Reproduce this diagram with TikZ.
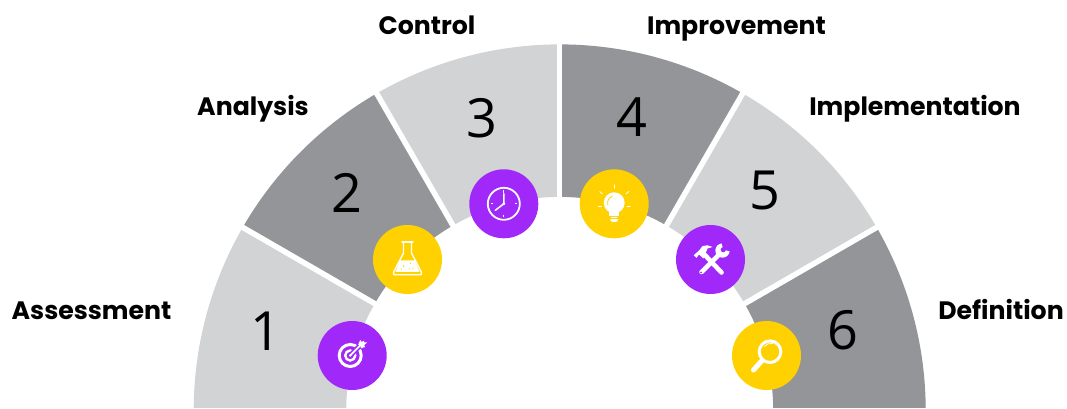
\documentclass[tikz,border=0pt]{standalone}
\usepackage{fontspec}
\newfontfamily\labfont{Poppins}
\newfontfamily\digfont{Open Sans}
\definecolor{segl}{HTML}{D1D3D4}
\definecolor{segd}{HTML}{939598}
\definecolor{purp}{HTML}{A028F9}
\definecolor{yell}{HTML}{FFD100}
\tikzset{
  lab/.style={font=\labfont\fontsize{25.2}{28}\selectfont\bfseries,text=black,inner sep=0pt,anchor=base},
  dig/.style={font=\digfont\fontsize{54}{60}\selectfont,text=black,inner sep=0pt},
  badge/.style={circle,minimum size=69pt,inner sep=0pt},
  ico/.style={draw=white,line width=1.6pt,line cap=round,line join=round},
  icof/.style={fill=white}
}
\newcommand{\seg}[3]{\fill[#3] (#1:366) arc[start angle=#1,end angle=#2,radius=366pt] -- (#2:213.5) arc[start angle=#2,end angle=#1,radius=213.5pt] -- cycle;}
\begin{document}
\begin{tikzpicture}[x=1pt,y=1pt]
\useasboundingbox (0,0) rectangle (1067,409);
\fill[white] (0,0) rectangle (1067,409);
\begin{scope}
\clip (0,1.3) rectangle (1067,409);
\begin{scope}[shift={(559.7,-1.4)}]
\seg{150}{180}{segl}
\seg{120}{150}{segd}
\seg{90}{120}{segl}
\seg{60}{90}{segd}
\seg{30}{60}{segl}
\seg{0}{30}{segd}
\foreach \a in {30,60,...,150} \draw[white,line width=5.5pt] (\a:200) -- (\a:380);
\end{scope}
\end{scope}
% digits
\node[dig] (d1) at (266,78) {1};
\node[dig] (d2) at (347,216) {2};
\node[dig] (d3) at (482,291) {3};
\node[dig] (d4) at (632,292) {4};
\node[dig] (d5) at (765,219) {5};
\node[dig] (d6) at (843,79) {6};
% labels
\node[lab] (l1) at (91.5,89) {Assessment};
\node[lab] (l2) at (253,293.3) {Analysis};
\node[lab] (l3) at (427,374.7) {Control};
\node[lab] (l4) at (736.5,374.7) {Improvement};
\node[lab] (l5) at (915,293.3) {Implementation};
\node[lab] (l6) at (1001,89) {Definition};
% badges
\node[badge,fill=purp] (b1) at (352.2,53.5) {};
\node[badge,fill=yell] (b2) at (407.5,149.5) {};
\node[badge,fill=purp] (b3) at (503.8,205.2) {};
\node[badge,fill=yell] (b4) at (614.2,205.2) {};
\node[badge,fill=purp] (b5) at (710.5,149.5) {};
\node[badge,fill=yell] (b6) at (766.5,53.5) {};
% target
\begin{scope}[shift={(b1.center)}]
\draw[white,line width=3pt] (-2,0) circle[radius=11];
\draw[white,line width=2.4pt] (-2,0) circle[radius=5];
\fill[white] (-2,0) circle[radius=1.3];
\draw[purp,line width=5pt] (-1,1) -- (9,11);
\draw[white,line width=1.8pt] (-2,0) -- (9,11);
\fill[white] (6,11) -- (8,10) -- (9,7) -- (11,8) -- (13,8) -- (12,10.5) -- (15,13) -- (12,13) -- (12,15) -- (9.5,13.5) -- (8,15.5) -- cycle;
\end{scope}
% flask
\begin{scope}[shift={(b2.center)}]
\draw[ico,line width=1.4pt] (-5.5,17.3) -- (5.5,17.3);
\draw[ico,line width=1.4pt] (-4,17) -- (-4,6.5) -- (-14,-13) to[out=-90,in=180] (-13,-15.3) -- (13,-15.3) to[out=0,in=-90] (14,-13) -- (4,6.5) -- (4,17);
\fill[white] (-7.5,-1) -- (7.5,-1) -- (12,-12.5) -- (-12,-12.5) -- cycle;
\fill[yell] (-4,-6.5) circle[radius=.9] (3,-3.7) circle[radius=.7] (2,-9.5) circle[radius=.7] (5.5,-9) circle[radius=.7] (-6,-9.5) circle[radius=.6];
\end{scope}
% clock
\begin{scope}[shift={(b3.center)}]
\draw[white,line width=1.8pt] (0,0) circle[radius=16];
\draw[ico,line width=1.5pt] (0,10) -- (0,0) -- (-8.5,-6.5);
\fill[white] (0,0) circle[radius=1.5];
\foreach \a in {0,90,180,270} \draw[white,line width=1pt] (\a:10.8) -- (\a:13.3);
\end{scope}
% bulb
\begin{scope}[shift={(b4.center)}]
\fill[white] (0,1) circle[radius=10.5];
\fill[white] (-5,-8) rectangle (5,-12);
\fill[white,rounded corners=1.5pt] (-3.8,-13) rectangle (3.8,-18);
\draw[yell,line width=1pt] (-6,-14.7) -- (6,-14.7);
\draw[yell,line width=.8pt,line cap=round] (-2,7.5) arc[start angle=110,end angle=195,radius=7];
\foreach \a in {90,40,140} \draw[white,line width=.9pt,line cap=round] (\a:15.5) -- (\a:19);
\draw[white,line width=.9pt,line cap=round] (-16,-2.5) -- (-12.8,-2.5) (16,-2.5) -- (12.8,-2.5);
\end{scope}
% tools
\begin{scope}[shift={(b5.center)}]
\draw[white,line width=4.6pt,line cap=round] (11,-13) -- (-8,7);
\fill[white] (-16.8,4.2) -- (-11,9.5) -- (-8,13.5) -- (-3,14.2) -- (2,12.5) -- (-3,11) -- (-7,1) -- (-11.5,5) -- (-14,1.6) -- cycle;
\draw[white,line width=4.6pt,line cap=round] (-9,-12.5) -- (10,6.5);
\fill[white] (12,9) circle[radius=7.2];
\fill[purp] (12.8,9.8) -- (11,17) -- (20,17) -- (20,8) -- cycle;
\fill[purp] (12.8,9.8) circle[radius=2.6];
\fill[purp] (-9.5,-13) circle[radius=1];
\end{scope}
% magnifier
\begin{scope}[shift={(b6.center)}]
\draw[white,line width=3pt] (3.5,3.8) circle[radius=10.8];
\draw[white,line width=5pt,line cap=round] (-4.5,-5) -- (-13,-14.5);
\draw[white,line width=.8pt,line cap=round] (-2,9) arc[start angle=145,end angle=75,radius=7.5];
\end{scope}
\end{tikzpicture}
\end{document}
